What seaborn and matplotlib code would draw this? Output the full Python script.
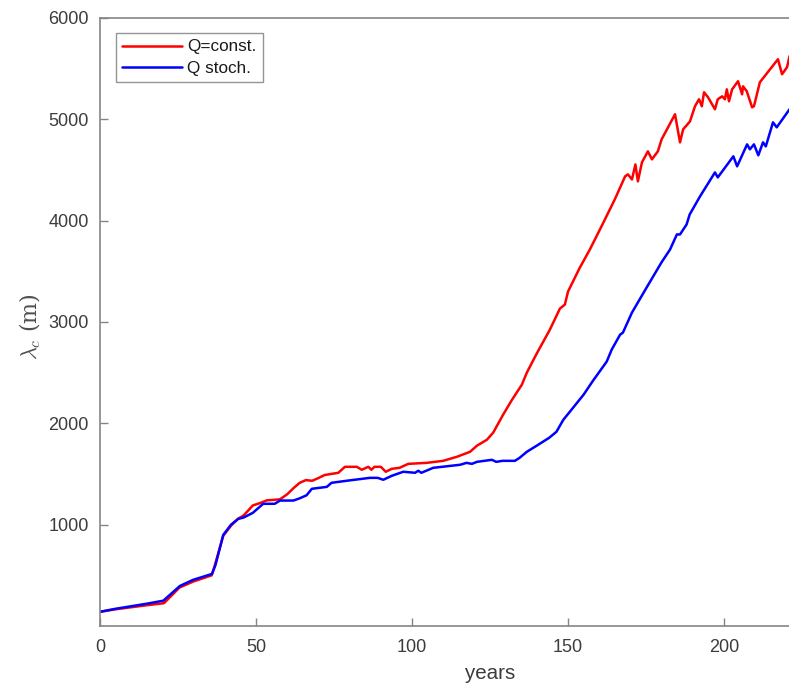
import matplotlib
matplotlib.use("Agg")
import matplotlib.pyplot as plt
import seaborn as sns
import pandas as pd

# ---- data ----
red_years = [0, 5, 10, 15, 20.5, 25.5, 30, 35.8, 36.8, 39.5, 42, 44.3, 46, 49, 51, 53.5, 57.7,
             60, 62, 64, 66, 68, 70, 72, 76.4, 78.5, 82.3, 83.9, 86, 87, 88, 90, 91.6, 93.5,
             96, 98.8, 104.7, 110, 114.4, 118.6, 120.8, 124, 126, 129.2, 132, 135.2, 136.8,
             140, 144.2, 147.4, 149, 150, 153.8, 157, 161, 165, 168.3, 169.2, 170.5, 171.6,
             172.4, 173.7, 175.6, 176.9, 178.8, 180, 184.3, 185.9, 186.9, 189.1, 190.7, 192,
             192.9, 193.6, 194.9, 197.1, 198, 199.4, 200.3, 200.9, 201.6, 202.6, 204.5, 205.8,
             206.1, 207.3, 209, 209.6, 211.5, 217.3, 218.6, 220.2, 221, 222]
red_lambda = [140, 165, 185, 205, 225, 380, 440, 500, 600, 890, 990, 1060, 1090, 1190, 1210,
              1240, 1250, 1300, 1360, 1413, 1440, 1433, 1460, 1490, 1512, 1571, 1571, 1542,
              1571, 1542, 1571, 1571, 1522, 1551, 1561, 1600, 1610, 1630, 1670, 1719, 1779,
              1838, 1907, 2085, 2230, 2381, 2500, 2690, 2925, 3132, 3172, 3300, 3537, 3715,
              3960, 4210, 4437, 4457, 4407, 4555, 4388, 4575, 4684, 4605, 4684, 4802, 5050,
              4773, 4901, 4980, 5129, 5198, 5129, 5267, 5217, 5099, 5198, 5227, 5198, 5296,
              5178, 5296, 5376, 5247, 5326, 5277, 5119, 5129, 5366, 5593, 5445, 5514, 5623,
              5650]

blue_years = [0, 5, 10, 15, 20.3, 25.6, 29.8, 35.9, 37, 39.5, 42, 44.3, 46, 49, 52.3, 56,
              57.7, 62, 64, 66.2, 67.9, 72.7, 74.2, 79, 86.5, 89, 90.8, 93.5, 97.2, 101, 102,
              103, 106.8, 115.4, 117.5, 119.2, 120.8, 125.6, 127, 129, 133, 134.5, 136.8, 140,
              144, 146.3, 148.5, 151, 155, 158, 162.4, 164, 166.7, 167.6, 170.5, 175, 180,
              182.7, 184.9, 185.9, 188, 189, 192.3, 197.1, 198, 203, 204.2, 207.4, 208.3,
              209.6, 211, 212.5, 213.4, 215.7, 216.9, 221, 222]
blue_lambda = [140, 170, 195, 220, 250, 395, 455, 514, 600, 899, 1000, 1057, 1070, 1117, 1206,
               1206, 1238, 1238, 1260, 1290, 1354, 1373, 1413, 1433, 1462, 1462, 1443, 1482,
               1522, 1512, 1532, 1512, 1561, 1591, 1610, 1600, 1620, 1640, 1620, 1630, 1630,
               1660, 1719, 1780, 1858, 1917, 2035, 2130, 2283, 2420, 2609, 2727, 2875, 2895,
               3093, 3330, 3590, 3715, 3864, 3864, 3962, 4061, 4239, 4476, 4427, 4635, 4536,
               4753, 4704, 4753, 4645, 4773, 4733, 4970, 4921, 5099, 5140]

series_names = ["Q=const.", "Q stoch."]
series_colors = ["#ff0000", "#0000ff"]
x_ticks = [0, 50, 100, 150, 200]
y_ticks = [1000, 2000, 3000, 4000, 5000, 6000]

df = pd.concat([
    pd.DataFrame({"years": red_years, "lam": red_lambda, "series": series_names[0]}),
    pd.DataFrame({"years": blue_years, "lam": blue_lambda, "series": series_names[1]}),
], ignore_index=True)

# ---- style ----
sns.set_style("white")
plt.rcParams["font.family"] = ["Liberation Sans", "DejaVu Sans"]
plt.rcParams["mathtext.fontset"] = "cm"

W, H = 789, 686
fig = plt.figure(figsize=(W / 100, H / 100), dpi=100)
# axes: left spine at px 100, bottom at 626, top at 18; right edge beyond canvas
ax = fig.add_axes([100 / W, (H - 626) / H, 780 / W, 608 / H])

sns.lineplot(data=df, x="years", y="lam", hue="series", palette=series_colors,
             estimator=None, sort=False, linewidth=1.8, ax=ax, legend=True)

ax.set_xlim(0, 250)
ax.set_ylim(0, 6000)
ax.set_xticks(x_ticks)
ax.set_yticks(y_ticks)

text_col = "#3c3c3c"
spine_col = "#858585"
for s in ax.spines.values():
    s.set_color(spine_col)
    s.set_linewidth(1.2)
    s.set_visible(True)
ax.tick_params(bottom=True, left=True, top=False, right=False,
               direction="in", length=6, width=1.0, color=spine_col,
               labelsize=13, labelcolor=text_col)
ax.tick_params(axis="x", pad=9)
ax.tick_params(axis="y", pad=8)

ax.set_xlabel("years", fontsize=14.8, color=text_col, va="baseline")
ax.xaxis.set_label_coords(490 / W, 1 - 679 / H, transform=fig.transFigure)
ax.set_ylabel(r"$\lambda_c$ (m)", fontsize=16, color="#505050", family="DejaVu Serif")
ax.yaxis.set_label_coords(43 / W, 1 - 327 / H, transform=fig.transFigure)

handles, labels = ax.get_legend_handles_labels()
leg = ax.legend(handles, labels, loc="upper left",
                bbox_to_anchor=(116 / W, 1 - 33 / H), bbox_transform=fig.transFigure,
                borderaxespad=0, fontsize=12.3, handlelength=3.5, handletextpad=0.3,
                borderpad=0.38, labelspacing=0.38, frameon=True, fancybox=False)
leg.get_frame().set_edgecolor("#7a7a7a")
leg.get_frame().set_linewidth(1.0)
for t in leg.get_texts():
    t.set_color("#1a1a1a")

fig.savefig("out.png", dpi=100)
